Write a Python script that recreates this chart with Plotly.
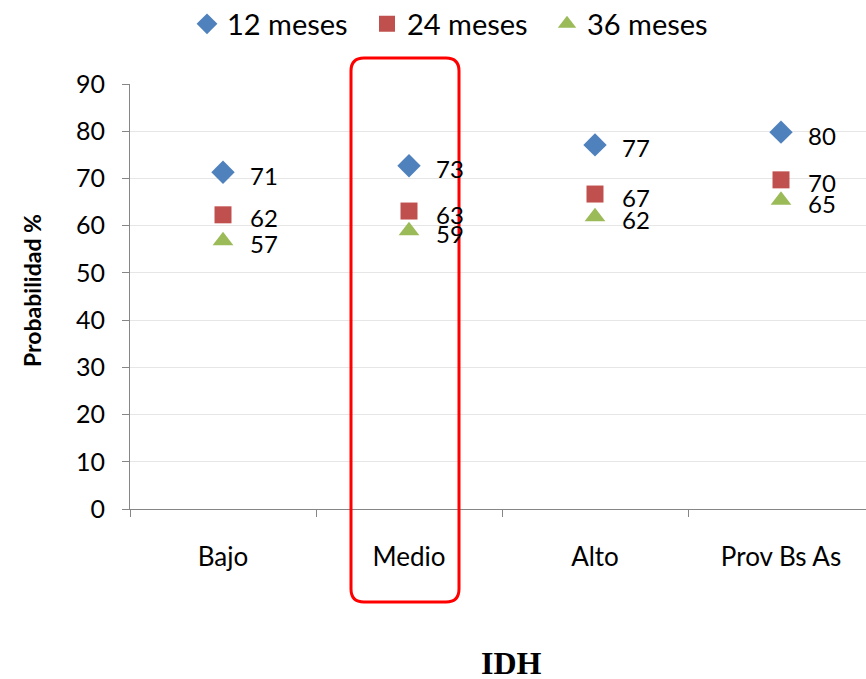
import plotly.graph_objects as go

categories = ["Bajo", "Medio", "Alto", "Prov Bs As"]
series_names = ["12 meses", "24 meses", "36 meses"]
v12 = [71.3, 72.7, 77.1, 79.8]
v24 = [62.3, 63.1, 66.7, 69.7]
v36 = [56.8, 58.9, 61.9, 65.4]
y_ticks = [0, 10, 20, 30, 40, 50, 60, 70, 80, 90]

colors = ["#4F81BD", "#C0504D", "#9BBB59"]
symbols = ["diamond", "square", "triangle-up"]
sizes = [18, 17, 18]

W, H = 866, 679
L, R, T, B = 130, 0, 84, 170
pw, ph = W - L - R, H - T - B
FONT = "Lato, Open Sans, sans-serif"

fig = go.Figure()
annotations = []
for name, vals, c, s, sz in zip(series_names, [v12, v24, v36], colors, symbols, sizes):
    fig.add_trace(go.Scatter(
        x=categories, y=vals, mode="markers", name=name,
        marker=dict(color=c, symbol=s, size=sz, line=dict(width=0)),
    ))
    for cat, v in zip(categories, vals):
        annotations.append(dict(
            x=cat, y=v, xref="x", yref="y", text=f"{v:.0f}", showarrow=False,
            xanchor="left", yanchor="middle", xshift=25, yshift=-3,
            font=dict(family=FONT, size=24, color="#000"),
        ))

def px_to_paper(px, py):
    return (px - L) / pw, (H - B - py) / ph

# rounded red rectangle around "Medio"
x0, y0 = px_to_paper(351, 602)
x1, y1 = px_to_paper(459, 58)
rx = 13 / pw
ry = 13 / ph
path = (f"M {x0+rx},{y1} L {x1-rx},{y1} Q {x1},{y1} {x1},{y1-ry} "
        f"L {x1},{y0+ry} Q {x1},{y0} {x1-rx},{y0} "
        f"L {x0+rx},{y0} Q {x0},{y0} {x0},{y0+ry} "
        f"L {x0},{y1-ry} Q {x0},{y1} {x0+rx},{y1} Z")

ix, iy = px_to_paper(511, 663)
annotations.append(dict(
    x=ix, y=iy, xref="paper", yref="paper",
    text="<b>IDH</b>", showarrow=False, xanchor="center", yanchor="middle",
    font=dict(family="Liberation Serif, Times New Roman, serif", size=32, color="#000"),
))
tx, ty = px_to_paper(32, 291)
annotations.append(dict(
    x=tx, y=ty, xref="paper", yref="paper", textangle=-90,
    text="<b>Probabilidad %</b>", showarrow=False, xanchor="center", yanchor="middle",
    font=dict(family=FONT, size=23, color="#000"),
))

lx, ly = px_to_paper(457, 24)
fig.update_layout(
    width=W, height=H,
    margin=dict(l=L, r=R, t=T, b=B, autoexpand=False),
    paper_bgcolor="white", plot_bgcolor="white",
    font=dict(family=FONT, color="#000"),
    showlegend=True,
    legend=dict(
        orientation="h", x=lx, xanchor="center",
        y=ly, yanchor="middle",
        font=dict(size=29, color="#000"), itemsizing="trace",
        bgcolor="rgba(0,0,0,0)", itemwidth=30,
        entrywidth=135, entrywidthmode="pixels",
    ),
    xaxis=dict(
        type="category", categoryorder="array", categoryarray=categories,
        range=[-0.5, -0.5 + pw / 186.0], automargin=False,
        showgrid=False, zeroline=False, showline=True, linecolor="#868686", linewidth=1,
        ticks="outside", ticklen=7, tickcolor="#868686", tickson="boundaries",
        tickfont=dict(size=26, color="#000"), ticklabelstandoff=25,
    ),
    yaxis=dict(
        range=[0, 90], tickmode="array", tickvals=y_ticks, automargin=False,
        showgrid=True, gridcolor="#E6E6E6", gridwidth=1, zeroline=False,
        showline=True, linecolor="#868686", linewidth=1,
        ticks="outside", ticklen=7, tickcolor="#868686",
        tickfont=dict(size=25, color="#000"), ticklabelstandoff=12,
    ),
    shapes=[dict(type="path", path=path, xref="paper", yref="paper",
                 line=dict(color="#FF0000", width=3), fillcolor="rgba(0,0,0,0)", layer="above")],
    annotations=annotations,
)

fig.write_html("out.html", config={"displayModeBar": False},
               post_script="document.body.style.margin='0px';")
